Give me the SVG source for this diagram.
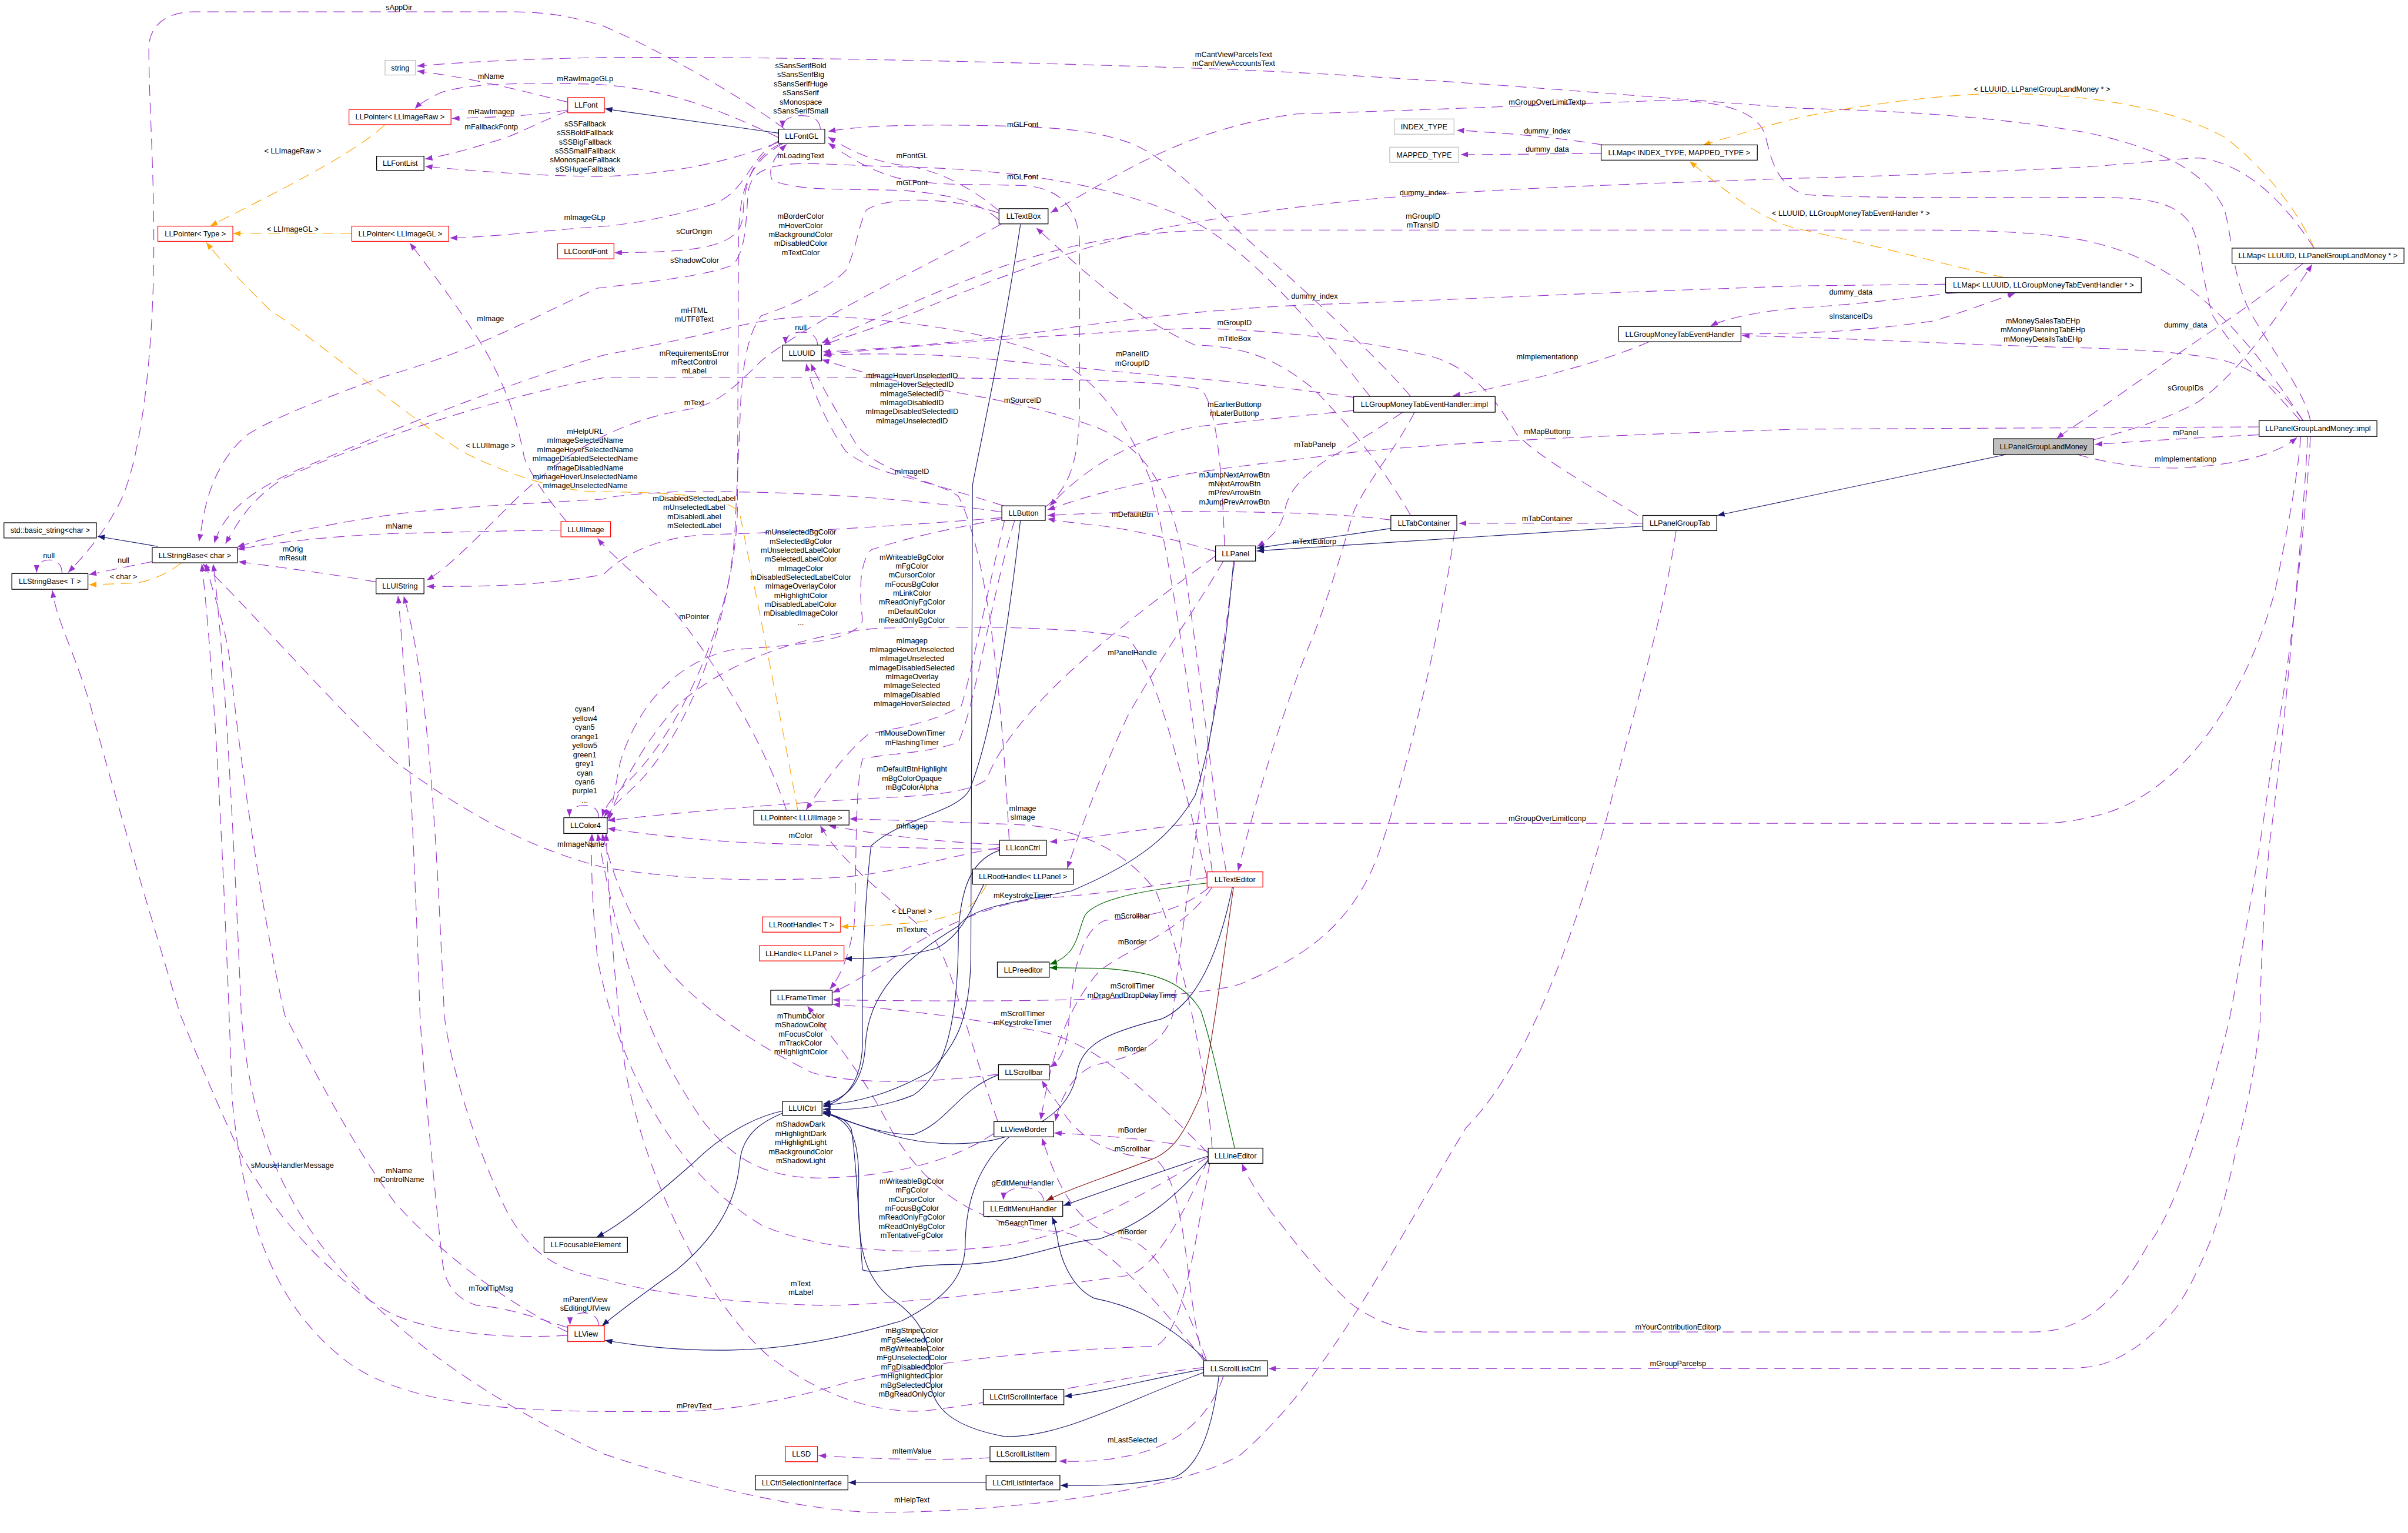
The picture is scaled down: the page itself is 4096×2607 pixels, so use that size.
<svg xmlns="http://www.w3.org/2000/svg" width="4096" height="2607" viewBox="0 0 4096 2607">
<style>
.p{fill:none;stroke:#9a32cd;stroke-width:1.2;stroke-dasharray:20,12;marker-end:url(#ap)}
.o{fill:none;stroke:#ffa500;stroke-width:1.2;stroke-dasharray:20,12;marker-end:url(#ao)}
.n{fill:none;stroke:#191970;stroke-width:1.2;marker-end:url(#an)}
.g{fill:none;stroke:#006400;stroke-width:1.2;marker-end:url(#ag)}
.f{fill:none;stroke:#8b1a1a;stroke-width:1.2;marker-end:url(#af)}
.nd rect{fill:#fff;stroke:#000;stroke-width:1.3}
.nd.red rect{stroke:#ff0000}
.nd.gray rect{stroke:#bfbfbf}
.nd.main rect{fill:#bfbfbf}
text{font-family:"Liberation Sans",Arial,Helvetica,sans-serif;font-size:13.3px;fill:#000;text-anchor:middle}
</style>
<defs>
<marker id="ap" markerUnits="userSpaceOnUse" markerWidth="14" markerHeight="10" refX="13" refY="5" orient="auto"><path d="M0,0 L13,5 L0,10 z" fill="#9a32cd"/></marker>
<marker id="ao" markerUnits="userSpaceOnUse" markerWidth="14" markerHeight="10" refX="13" refY="5" orient="auto"><path d="M0,0 L13,5 L0,10 z" fill="#ffa500"/></marker>
<marker id="an" markerUnits="userSpaceOnUse" markerWidth="14" markerHeight="10" refX="13" refY="5" orient="auto"><path d="M0,0 L13,5 L0,10 z" fill="#191970"/></marker>
<marker id="ag" markerUnits="userSpaceOnUse" markerWidth="14" markerHeight="10" refX="13" refY="5" orient="auto"><path d="M0,0 L13,5 L0,10 z" fill="#006400"/></marker>
<marker id="af" markerUnits="userSpaceOnUse" markerWidth="14" markerHeight="10" refX="13" refY="5" orient="auto"><path d="M0,0 L13,5 L0,10 z" fill="#8b1a1a"/></marker>
</defs>
<rect x="0" y="0" width="4096" height="2607" fill="#fff"/>
<g transform="scale(0.959)">
<g id="connectors">
<path class="p" d="M1392,229 C1300,160 1150,80 1070,46 C1000,25 960,21 900,21 L345,21 C300,21 268,40 264,80 C264,200 276,320 272,500 C266,700 240,850 205,905 C180,950 150,985 121,1015"/>
<path class="p" d="M4098,746 C4090,700 4030,620 3995,560 C3960,500 3960,420 3945,370 C3910,300 3820,260 3700,235 C3500,200 3300,195 3190,192 C2900,170 2500,135 2150,122 C1800,110 1400,100 1070,102 C900,105 800,112 740,117"/>
<path class="p" d="M1007,181 C940,165 850,140 740,126"/>
<path class="p" d="M1381,244 C1250,180 1150,152 1040,149 C900,146 820,150 780,165 C760,175 745,183 736,193"/>
<path class="p" d="M1007,195 C950,205 880,208 802,210"/>
<path class="p" d="M1007,197 C960,215 930,232 895,245 C840,262 800,274 754,282"/>
<path class="p" d="M1381,252 C1300,285 1200,308 1070,313 C950,312 850,304 754,295"/>
<path class="p" d="M1455,229 C1455,212 1440,205 1422,205 C1402,205 1388,212 1388,227"/>
<path class="p" d="M2430,703 C2380,640 2250,470 2130,400 C2000,330 1800,300 1600,296 C1520,294 1470,290 1420,290 C1360,292 1335,305 1328,335 C1322,385 1326,440 1300,470 C1250,490 1150,500 1060,511 C950,560 850,620 680,668 C550,715 480,745 440,770 C390,810 370,870 362,910 C358,930 356,945 353,960"/>
<path class="p" d="M1772,374 C1720,330 1660,300 1600,293 C1540,285 1500,262 1469,243"/>
<path class="p" d="M2502,703 C2450,640 2320,520 2230,440 C2160,380 2080,280 2000,252 C1930,228 1860,224 1700,222 C1600,221 1520,224 1469,233"/>
<path class="p" d="M1853,900 C1905,860 1915,800 1915,700 L1915,430 C1912,370 1880,332 1814,329 C1720,326 1650,330 1590,315 C1530,298 1495,270 1469,254"/>
<path class="p" d="M1772,390 C1740,362 1700,346 1606,338 C1500,334 1420,340 1370,320 C1360,300 1375,275 1395,256"/>
<path class="p" d="M1381,250 C1330,275 1325,340 1265,362 C1180,388 1100,400 1060,402 C950,410 880,420 798,422"/>
<path class="p" d="M1385,255 C1338,275 1320,320 1318,380 C1315,430 1270,448 1090,448"/>
<path class="p" d="M1388,255 C1325,290 1312,340 1310,420 L1308,900 C1305,1100 1200,1300 1120,1380 C1095,1405 1075,1425 1068,1448"/>
<path class="p" d="M1772,378 C1700,352 1580,345 1537,372 C1522,400 1520,440 1500,480 C1460,520 1380,550 1350,560 C1320,600 1314,680 1312,760 L1305,910 C1300,1100 1220,1300 1130,1390 C1100,1420 1080,1435 1072,1448"/>
<path class="p" d="M2150,1546 C2120,1300 2080,1000 2040,850 C2000,750 1950,680 1880,640 C1800,605 1700,580 1550,567 C1450,556 1390,560 1300,580 C1200,605 1120,620 1070,630 C900,680 700,760 560,820 C460,860 400,900 380,963"/>
<path class="p" d="M2172,968 C2168,850 2160,720 2130,690 C2050,672 1800,670 1500,670 L1070,670 C900,700 650,780 500,850 C440,890 420,930 400,964"/>
<path class="p" d="M1777,908 C1600,882 1400,870 1200,872 C1120,876 1085,880 1070,885 C900,895 800,900 716,910 C600,925 480,950 421,970"/>
<path class="p" d="M995,940 C900,941 800,944 700,946 C600,950 500,960 421,974"/>
<path class="p" d="M667,1032 C600,1020 500,1006 423,996"/>
<path class="p" d="M270,996 C240,1002 200,1010 158,1019"/>
<path class="p" d="M110,1017 C110,1000 100,993 88,993 C74,993 65,1000 65,1015"/>
<path class="p" d="M1776,397 C1650,470 1450,560 1350,640 C1300,690 1270,718 1220,726 C1100,745 1000,800 900,900 C830,970 790,1010 757,1029"/>
<path class="p" d="M1777,918 C1600,932 1400,945 1250,948 C1150,955 1100,990 1070,1019 C950,1040 850,1040 757,1040"/>
<path class="p" d="M1007,2354 C960,2340 900,2318 846,2315 C800,2300 790,2270 785,2240 C770,2100 750,1900 745,1800 C735,1500 720,1200 706,1057"/>
<path class="p" d="M2143,2055 C2100,2150 2050,2250 2000,2262 C1800,2290 1600,2312 1470,2315 C1300,2312 1150,2292 1070,2268 C980,2250 940,2220 900,2150 C850,2050 800,1900 788,1800 C775,1500 760,1200 716,1057"/>
<path class="p" d="M1773,1503 C1700,1515 1600,1545 1500,1555 C1350,1565 1200,1560 1070,1538 C960,1510 850,1460 700,1350 C600,1260 480,1120 360,1000"/>
<path class="p" d="M1005,925 C985,900 950,860 930,812 C920,760 905,700 860,620 C830,570 780,500 727,431"/>
<path class="p" d="M1395,1437 C1350,1300 1250,1150 1200,1090 C1130,1020 1080,980 1060,955"/>
<path class="p" d="M1450,612 C1450,596 1438,589 1422,589 C1402,589 1393,597 1393,610"/>
<path class="p" d="M2405,705 C2300,690 2200,678 2130,672 C2000,662 1850,645 1700,632 C1600,626 1520,627 1460,630"/>
<path class="p" d="M4085,746 C3990,600 3880,470 3720,432 C3640,410 3500,408 3400,408 L2150,408 C2000,412 1900,432 1780,472 C1650,520 1520,580 1458,608"/>
<path class="p" d="M4105,441 C4060,370 3990,290 3900,280 C3850,282 3809,288 3700,296 C3500,306 3300,314 3190,316 C2900,326 2600,336 2400,356 C2250,372 2150,388 2060,405 C1900,440 1750,500 1620,555 C1530,590 1490,600 1460,612"/>
<path class="p" d="M3451,504 L3190,507 C2800,520 2500,535 2331,540 C2150,548 2000,565 1850,588 C1700,608 1550,620 1460,624"/>
<path class="p" d="M2175,1546 C2150,1400 2130,1200 2100,1000 C2080,880 2040,800 1950,760 C1850,722 1750,705 1650,688 C1560,672 1500,650 1458,638"/>
<path class="p" d="M1780,897 C1700,870 1560,840 1520,790 C1490,740 1460,690 1438,645"/>
<path class="p" d="M1790,1490 C1780,1300 1760,1000 1700,880 C1650,845 1560,850 1500,800 C1465,750 1440,690 1430,645"/>
<path class="p" d="M4080,746 C4040,700 3960,620 3925,560 C3905,500 3905,420 3880,390 C3850,355 3800,350 3700,350 C3500,350 3300,352 3200,345 C3140,322 3140,262 3128,232 C3108,192 3040,178 2950,178 C2800,184 2500,196 2300,202 C2150,222 2050,272 1960,322 C1920,345 1890,362 1864,377"/>
<path class="p" d="M2843,257 C2780,246 2680,236 2584,231"/>
<path class="p" d="M2840,272 C2750,273 2680,274 2591,274"/>
<path class="p" d="M2502,914 C2460,840 2400,760 2330,690 C2260,632 2200,614 2120,612 C2000,560 1900,460 1838,404"/>
<path class="p" d="M2905,914 C2800,850 2730,810 2690,770 C2650,700 2600,645 2530,630 C2400,600 2250,585 2120,582 C1900,590 1650,612 1462,628"/>
<path class="p" d="M2925,606 C2850,640 2700,680 2577,702"/>
<path class="p" d="M2401,728 C2300,738 2200,748 2120,757 C2000,780 1920,835 1862,897"/>
<path class="p" d="M4007,757 L3190,761 C2900,770 2600,782 2400,802 C2250,822 2130,832 2050,852 C1950,872 1900,890 1858,904"/>
<path class="p" d="M2488,731 C2430,770 2380,800 2358,812 C2300,850 2282,880 2278,910 C2270,940 2252,956 2230,969"/>
<path class="p" d="M2467,922 C2400,913 2300,908 2120,907 C2000,907 1920,911 1858,914"/>
<path class="p" d="M2156,978 C2080,955 2000,938 1950,932 C1900,927 1880,924 1858,920"/>
<path class="p" d="M2509,731 C2480,790 2420,860 2400,910 C2380,980 2350,1080 2320,1150 C2280,1250 2232,1400 2196,1544"/>
<path class="p" d="M4085,746 C4040,680 3990,652 3947,640 C3880,625 3800,620 3700,617 C3500,612 3300,601 3190,598 L3090,595"/>
<path class="p" d="M3089,592 C3200,592 3300,588 3431,569 C3500,547 3540,532 3574,520"/>
<path class="p" d="M3472,519 C3400,526 3300,540 3190,546 C3120,552 3060,565 3034,578"/>
<path class="p" d="M4085,467 C4020,520 3950,570 3912,594 C3830,650 3740,714 3700,742 C3672,760 3658,770 3648,778"/>
<path class="p" d="M3713,780 C3780,762 3840,745 3900,712 C3980,652 4040,560 4101,469"/>
<path class="p" d="M4007,771 C3900,776 3800,782 3716,788"/>
<path class="p" d="M3685,806 C3740,822 3800,830 3860,830 C3950,826 4030,812 4074,776"/>
<path class="p" d="M4081,774 C4075,850 4055,950 4036,1045 C4010,1140 3980,1200 3950,1250 C3880,1370 3790,1430 3720,1446 C3680,1456 3650,1460 3616,1460 L2130,1460 C2050,1465 1950,1485 1862,1493"/>
<path class="p" d="M4098,774 C4092,900 4060,1200 4030,1350 C3995,1600 3965,1750 3954,1810 C3920,1950 3860,2150 3809,2209 C3770,2280 3730,2320 3700,2336 C3670,2355 3640,2362 3600,2362 L2523,2362 C2470,2356 2420,2332 2393,2309 C2330,2250 2282,2182 2256,2151 C2235,2122 2215,2092 2203,2064"/>
<path class="p" d="M4093,774 C4088,900 4052,1300 4025,1500 C4012,1650 4009,1750 4009,1810 C4000,1900 3982,1980 3967,2034 C3950,2120 3930,2180 3912,2221 C3882,2290 3862,2320 3843,2338 C3800,2390 3750,2416 3713,2423 C3690,2426 3670,2427 3650,2427 L2250,2427"/>
<path class="p" d="M2973,941 C2950,1100 2900,1250 2850,1450 C2780,1700 2700,1900 2600,2000 C2450,2250 2350,2450 2200,2580 C2100,2640 1800,2682 1550,2682 C1400,2677 1200,2622 1070,2578 C900,2500 750,2400 650,2300 C500,2150 445,2000 428,1800 C412,1400 392,1100 378,1000"/>
<path class="p" d="M1007,2362 C900,2312 780,2222 700,2132 C620,2022 560,1902 505,1800 C460,1600 420,1300 410,1190 C400,1100 375,1050 366,1000"/>
<path class="p" d="M1007,2368 C900,2374 780,2366 700,2332 C600,2282 480,2152 420,2032 C360,1902 330,1822 320,1800 C260,1600 200,1400 160,1250 C130,1150 100,1100 93,1047"/>
<path class="p" d="M2146,2062 C2120,2200 2100,2362 2050,2387 C1900,2394 1700,2402 1500,2452 C1400,2482 1300,2502 1200,2503 L1070,2503 C900,2501 700,2491 600,2402 C480,2302 432,2152 412,1952 C396,1500 380,1200 358,1000"/>
<path class="p" d="M1062,2351 C1062,2336 1050,2328 1036,2328 C1020,2328 1011,2336 1011,2349"/>
<path class="p" d="M1062,1450 C1062,1434 1050,1428 1038,1428 C1022,1428 1010,1434 1010,1448"/>
<path class="p" d="M1777,920 C1700,935 1620,950 1545,975 C1522,1000 1525,1060 1530,1100 C1518,1132 1450,1142 1300,1152 C1200,1172 1130,1252 1100,1352 C1090,1402 1086,1430 1080,1454"/>
<path class="p" d="M2141,1556 C2100,1400 2060,1200 2000,1130 C1900,1112 1750,1110 1560,1114 C1450,1122 1300,1162 1200,1252 C1130,1332 1100,1402 1077,1452"/>
<path class="p" d="M1800,922 C1760,1050 1730,1250 1700,1316 C1650,1336 1570,1336 1530,1346 C1515,1400 1520,1550 1515,1640 C1505,1700 1490,1732 1472,1754"/>
<path class="p" d="M2156,986 C2000,1100 1800,1250 1750,1382 C1720,1406 1650,1411 1540,1416 C1400,1424 1200,1441 1078,1455"/>
<path class="p" d="M1773,1506 C1600,1504 1450,1499 1300,1493 C1200,1486 1120,1476 1078,1469"/>
<path class="p" d="M2170,995 C2120,1080 2050,1180 2000,1270 C1950,1380 1920,1460 1893,1540"/>
<path class="p" d="M2150,2036 C2140,1900 2100,1700 2050,1580 C1990,1500 1900,1466 1800,1462 C1700,1458 1600,1455 1507,1452"/>
<path class="p" d="M1773,1498 C1700,1494 1600,1488 1470,1464"/>
<path class="p" d="M1782,922 C1762,1000 1722,1200 1705,1252 C1655,1282 1585,1292 1540,1302 C1492,1342 1452,1402 1430,1436"/>
<path class="p" d="M1770,1989 C1720,1850 1690,1720 1660,1670 C1590,1600 1490,1530 1455,1464"/>
<path class="o" d="M1750,1568 C1730,1610 1700,1627 1620,1636 C1570,1641 1530,1643 1492,1643"/>
<path class="p" d="M2141,1556 C2050,1571 1950,1586 1850,1593 C1750,1602 1650,1652 1580,1702 C1530,1732 1500,1750 1477,1760"/>
<path class="p" d="M2145,1573 C2100,1612 2040,1627 1960,1632 C1910,1652 1900,1752 1895,1822 C1890,1862 1880,1882 1862,1892"/>
<path class="p" d="M2150,1573 C2100,1652 2000,1682 1950,1722 C1880,1802 1860,1902 1846,1986"/>
<path class="p" d="M2580,941 C2560,1100 2500,1350 2450,1500 C2400,1650 2300,1702 2200,1745 C2100,1775 1800,1778 1477,1773"/>
<path class="p" d="M2143,2045 C2050,1950 1950,1852 1850,1830 C1700,1802 1600,1790 1477,1781"/>
<path class="p" d="M1771,1905 C1650,1920 1520,1925 1440,1902 C1380,1872 1310,1832 1250,1782 C1150,1702 1100,1602 1068,1478"/>
<path class="p" d="M1763,2010 C1700,2052 1600,2087 1450,2089 C1350,2087 1300,2052 1250,1992 C1150,1852 1100,1702 1060,1478"/>
<path class="p" d="M2143,2052 C2050,2102 1900,2202 1750,2212 C1600,2227 1450,2217 1350,2172 C1200,2082 1100,1902 1060,1702 C1050,1602 1048,1532 1050,1478"/>
<path class="p" d="M2135,2425 C2000,2440 1800,2482 1640,2502 C1550,2507 1450,2472 1360,2402 C1250,2302 1150,2102 1110,1902 C1090,1752 1080,1602 1075,1478"/>
<path class="p" d="M2190,995 C2150,1300 2100,1600 2080,1800 C2060,1860 2000,1876 1940,1889 C1900,1907 1880,1950 1872,1988"/>
<path class="p" d="M2143,2042 C2080,2022 1950,2013 1870,2009"/>
<path class="p" d="M2137,2418 C2100,2300 2110,2110 2050,2055 C1950,2048 1900,2002 1880,1962 C1866,1942 1856,1930 1848,1916"/>
<path class="p" d="M2140,2412 C2100,2302 2050,2202 1990,2195 C1900,2175 1870,2082 1848,2018"/>
<path class="p" d="M2170,2440 C2150,2502 2100,2562 2000,2582 C1950,2592 1920,2592 1879,2591"/>
<path class="p" d="M1756,2585 C1680,2590 1550,2588 1452,2581"/>
<path class="p" d="M1851,2130 C1851,2114 1835,2106 1815,2106 C1795,2106 1780,2114 1780,2128"/>
<path class="p" d="M2137,2415 C2050,2302 1950,2192 1880,2184 C1750,2178 1650,2122 1580,2002 C1530,1902 1462,1822 1432,1784"/>
<path class="p" d="M2913,928 L2588,928"/>
<path class="o" d="M682,222 C620,280 450,360 373,401"/>
<path class="o" d="M624,414 L414,414"/>
<path class="o" d="M1415,1437 C1390,1300 1340,1050 1312,910 C1290,880 1200,873 1060,872 C990,871 900,841 820,801 C700,721 560,601 480,551 C430,501 390,461 366,430"/>
<path class="o" d="M322,998 C300,1015 270,1030 240,1034 L158,1037"/>
<path class="o" d="M3555,492 C3450,470 3350,440 3190,406 C3120,390 3050,330 2997,286"/>
<path class="o" d="M4105,441 C4080,380 4020,300 3947,244 C3850,190 3700,165 3534,166 C3400,170 3250,196 3190,209 C3120,226 3060,246 3021,257"/>
<path class="n" d="M1381,236 L1073,193"/>
<path class="n" d="M280,969 L173,951"/>
<path class="n" d="M2467,937 L2229,972"/>
<path class="n" d="M2914,933 L2229,977"/>
<path class="n" d="M3558,806 L3046,914"/>
<path class="n" d="M1810,398 C1780,600 1740,780 1725,860 L1722,1700 C1720,1800 1700,1850 1650,1900 C1580,1940 1520,1955 1460,1960"/>
<path class="n" d="M1810,922 C1790,1100 1760,1300 1720,1400 C1700,1440 1600,1450 1545,1500 C1533,1600 1528,1750 1530,1850 C1528,1920 1500,1950 1460,1963"/>
<path class="n" d="M1773,1508 C1730,1522 1705,1562 1700,1652 C1700,1802 1680,1902 1620,1942 C1560,1966 1500,1969 1460,1967"/>
<path class="n" d="M2188,995 C2175,1150 2150,1320 2120,1410 C2080,1480 2020,1530 1900,1580 C1780,1602 1720,1612 1700,1642 C1600,1702 1540,1762 1535,1852 C1532,1912 1510,1946 1460,1958"/>
<path class="n" d="M1771,1906 C1700,1932 1680,1992 1620,2012 C1560,2012 1500,1987 1460,1972"/>
<path class="n" d="M2186,1573 C2160,1700 2120,1782 2060,1807 C1960,1832 1920,1852 1910,1902 C1900,1962 1850,2002 1760,2022 C1650,2042 1560,2012 1460,1970"/>
<path class="n" d="M2143,2058 C2100,2102 2050,2162 1950,2197 C1880,2202 1800,2242 1700,2242 C1600,2242 1560,2262 1530,2252 C1525,2202 1520,2062 1510,2002 C1500,1982 1480,1977 1460,1975"/>
<path class="n" d="M2140,2432 C2000,2482 1880,2552 1780,2547 C1700,2532 1650,2502 1650,2442 C1650,2382 1640,2342 1580,2302 C1530,2262 1520,2202 1523,2102 C1525,2022 1510,1982 1460,1974"/>
<path class="n" d="M2143,2050 C2050,2080 1950,2115 1886,2138"/>
<path class="n" d="M2140,2413 C2060,2332 1990,2312 1940,2302 C1900,2282 1880,2232 1875,2192 C1872,2177 1870,2167 1866,2158"/>
<path class="n" d="M2135,2428 C2050,2442 1950,2470 1888,2476"/>
<path class="n" d="M2162,2440 C2152,2520 2132,2600 2082,2620 C2002,2635 1942,2635 1881,2634"/>
<path class="n" d="M1749,2629 L1505,2629"/>
<path class="n" d="M1388,1974 C1350,1990 1316,2012 1312,2062 C1305,2142 1260,2202 1200,2252 C1130,2302 1092,2330 1068,2351"/>
<path class="n" d="M1388,1970 C1340,1980 1280,2012 1230,2062 C1150,2132 1100,2172 1058,2194"/>
<path class="n" d="M1790,2016 C1740,2062 1712,2122 1712,2212 C1710,2262 1680,2302 1600,2342 C1500,2372 1400,2392 1300,2394 C1200,2396 1130,2386 1073,2377"/>
<path class="n" d="M1745,1568 C1720,1622 1700,1662 1660,1682 C1600,1698 1550,1700 1498,1700"/>
<path class="g" d="M2190,2036 C2170,1952 2150,1852 2130,1792 C2100,1742 2050,1722 1950,1717 L1862,1716"/>
<path class="g" d="M2141,1566 C2050,1576 1950,1590 1925,1622 C1910,1652 1915,1692 1862,1710"/>
<path class="f" d="M2188,1573 C2170,1700 2150,1852 2130,1942 C2100,2012 2080,2042 2040,2057 C1950,2092 1900,2107 1856,2129"/>
</g>
<g id="edge-labels">
<text x="707.7" y="17.5">sAppDir</text>
<text x="2188" y="101"><tspan x="2188">mCantViewParcelsText</tspan><tspan x="2188" dy="16.2">mCantViewAccountsText</tspan></text>
<text x="870.7" y="139.9">mName</text>
<text x="1037.7" y="144">mRawImageGLp</text>
<text x="871.4" y="202">mRawImagep</text>
<text x="871.4" y="229.9">mFallbackFontp</text>
<text x="1038" y="224.1"><tspan x="1038">sSSFallback</tspan><tspan x="1038" dy="16.0">sSSBoldFallback</tspan><tspan x="1038" dy="16.0">sSSBigFallback</tspan><tspan x="1038" dy="16.0">sSSSmallFallback</tspan><tspan x="1038" dy="16.0">sMonospaceFallback</tspan><tspan x="1038" dy="16.0">sSSHugeFallback</tspan></text>
<text x="1420.3" y="120.7"><tspan x="1420.3">sSansSerifBold</tspan><tspan x="1420.3" dy="16.2">sSansSerifBig</tspan><tspan x="1420.3" dy="16.2">sSansSerifHuge</tspan><tspan x="1420.3" dy="16.2">sSansSerif</tspan><tspan x="1420.3" dy="16.2">sMonospace</tspan><tspan x="1420.3" dy="16.2">sSansSerifSmall</tspan></text>
<text x="1420.3" y="280.4">mLoadingText</text>
<text x="1617.5" y="281">mFontGL</text>
<text x="1814" y="225.3">mGLFont</text>
<text x="1814" y="318.1">mGLFont</text>
<text x="1617.5" y="328">mGLFont</text>
<text x="2744.4" y="185.8">mGroupOverLimitTextp</text>
<text x="2744.4" y="236.9">dummy_index</text>
<text x="2744.4" y="269.4">dummy_data</text>
<text x="3622" y="162.6">&lt; LLUUID, LLPanelGroupLandMoney * &gt;</text>
<text x="2524" y="346">dummy_index</text>
<text x="3283" y="382.5">&lt; LLUUID, LLGroupMoneyTabEventHandler * &gt;</text>
<text x="2524" y="388.3"><tspan x="2524">mGroupID</tspan><tspan x="2524" dy="15.7">mTransID</tspan></text>
<text x="1037" y="389.5">mImageGLp</text>
<text x="1420.3" y="388.3"><tspan x="1420.3">mBorderColor</tspan><tspan x="1420.3" dy="16.0">mHoverColor</tspan><tspan x="1420.3" dy="16.0">mBackgroundColor</tspan><tspan x="1420.3" dy="16.0">mDisabledColor</tspan><tspan x="1420.3" dy="16.0">mTextColor</tspan></text>
<text x="1231.3" y="414.5">sCurOrigin</text>
<text x="1232" y="466.1">sShadowColor</text>
<text x="519.3" y="272.3">&lt; LLImageRaw &gt;</text>
<text x="519.3" y="410.4">&lt; LLImageGL &gt;</text>
<text x="3282.9" y="522.4">dummy_data</text>
<text x="2331.5" y="530">dummy_index</text>
<text x="1231.3" y="554.3"><tspan x="1231.3">mHTML</tspan><tspan x="1231.3" dy="16.3">mUTF8Text</tspan></text>
<text x="3282.9" y="565.4">sInstanceIDs</text>
<text x="870" y="568.9">mImage</text>
<text x="3623.5" y="573.5"><tspan x="3623.5">mMoneySalesTabEHp</tspan><tspan x="3623.5" dy="16.1">mMoneyPlanningTabEHp</tspan><tspan x="3623.5" dy="16.1">mMoneyDetailsTabEHp</tspan></text>
<text x="3876.7" y="580.5">dummy_data</text>
<text x="1420.3" y="585.1">null</text>
<text x="2189.6" y="576.4">mGroupID</text>
<text x="2189.6" y="604.3">mTitleBox</text>
<text x="1231.3" y="630.4"><tspan x="1231.3">mRequirementsError</tspan><tspan x="1231.3" dy="16.1">mRectControl</tspan><tspan x="1231.3" dy="16.1">mLabel</tspan></text>
<text x="2008.5" y="632.1"><tspan x="2008.5">mPanelID</tspan><tspan x="2008.5" dy="16.3">mGroupID</tspan></text>
<text x="2744.4" y="637.3">mImplementationp</text>
<text x="1617.5" y="670.4"><tspan x="1617.5">mImageHoverUnselectedID</tspan><tspan x="1617.5" dy="16.0">mImageHoverSelectedID</tspan><tspan x="1617.5" dy="16.0">mImageSelectedID</tspan><tspan x="1617.5" dy="16.0">mImageDisabledID</tspan><tspan x="1617.5" dy="16.0">mImageDisabledSelectedID</tspan><tspan x="1617.5" dy="16.0">mImageUnselectedID</tspan></text>
<text x="3876.7" y="692.5">sGroupIDs</text>
<text x="1814" y="714">mSourceID</text>
<text x="1231.3" y="718.6">mText</text>
<text x="2189.6" y="721.5"><tspan x="2189.6">mEarlierButtonp</tspan><tspan x="2189.6" dy="16.2">mLaterButtonp</tspan></text>
<text x="1038" y="769.7"><tspan x="1038">mHelpURL</tspan><tspan x="1038" dy="16.0">mImageSelectedName</tspan><tspan x="1038" dy="16.0">mImageHoverSelectedName</tspan><tspan x="1038" dy="16.0">mImageDisabledSelectedName</tspan><tspan x="1038" dy="16.0">mImageDisabledName</tspan><tspan x="1038" dy="16.0">mImageHoverUnselectedName</tspan><tspan x="1038" dy="16.0">mImageUnselectedName</tspan></text>
<text x="2744.4" y="769.7">mMapButtonp</text>
<text x="3876.7" y="772">mPanel</text>
<text x="2332.2" y="792.3">mTabPanelp</text>
<text x="870" y="794.7">&lt; LLUIImage &gt;</text>
<text x="3876.7" y="818.4">mImplementationp</text>
<text x="1617.5" y="840.5">mImageID</text>
<text x="2189.6" y="846.3"><tspan x="2189.6">mJumpNextArrowBtn</tspan><tspan x="2189.6" dy="16.1">mNextArrowBtn</tspan><tspan x="2189.6" dy="16.1">mPrevArrowBtn</tspan><tspan x="2189.6" dy="16.1">mJumpPrevArrowBtn</tspan></text>
<text x="1231.3" y="888.1"><tspan x="1231.3">mDisabledSelectedLabel</tspan><tspan x="1231.3" dy="16.2">mUnselectedLabel</tspan><tspan x="1231.3" dy="16.2">mDisabledLabel</tspan><tspan x="1231.3" dy="16.2">mSelectedLabel</tspan></text>
<text x="2008.5" y="916.3">mDefaultBtn</text>
<text x="707.7" y="937.7">mName</text>
<text x="1420.3" y="948.2"><tspan x="1420.3">mUnselectedBgColor</tspan><tspan x="1420.3" dy="16.0">mSelectedBgColor</tspan><tspan x="1420.3" dy="16.0">mUnselectedLabelColor</tspan><tspan x="1420.3" dy="16.0">mSelectedLabelColor</tspan><tspan x="1420.3" dy="16.0">mImageColor</tspan><tspan x="1420.3" dy="16.0">mDisabledSelectedLabelColor</tspan><tspan x="1420.3" dy="16.0">mImageOverlayColor</tspan><tspan x="1420.3" dy="16.0">mHighlightColor</tspan><tspan x="1420.3" dy="16.0">mDisabledLabelColor</tspan><tspan x="1420.3" dy="16.0">mDisabledImageColor</tspan><tspan x="1420.3" dy="16.0">...</tspan></text>
<text x="2744.4" y="923.7">mTabContainer</text>
<text x="2331.5" y="964.5">mTextEditorp</text>
<text x="519.3" y="978.4"><tspan x="519.3">mOrig</tspan><tspan x="519.3" dy="15.7">mResult</tspan></text>
<text x="219" y="997.6">null</text>
<text x="219" y="1026.6">&lt; char &gt;</text>
<text x="86.7" y="989.4">null</text>
<text x="1617.5" y="992.3"><tspan x="1617.5">mWriteableBgColor</tspan><tspan x="1617.5" dy="16.0">mFgColor</tspan><tspan x="1617.5" dy="16.0">mCursorColor</tspan><tspan x="1617.5" dy="16.0">mFocusBgColor</tspan><tspan x="1617.5" dy="16.0">mLinkColor</tspan><tspan x="1617.5" dy="16.0">mReadOnlyFgColor</tspan><tspan x="1617.5" dy="16.0">mDefaultColor</tspan><tspan x="1617.5" dy="16.0">mReadOnlyBgColor</tspan></text>
<text x="1231.3" y="1098">mPointer</text>
<text x="1617.5" y="1140.3"><tspan x="1617.5">mImagep</tspan><tspan x="1617.5" dy="16.0">mImageHoverUnselected</tspan><tspan x="1617.5" dy="16.0">mImageUnselected</tspan><tspan x="1617.5" dy="16.0">mImageDisabledSelected</tspan><tspan x="1617.5" dy="16.0">mImageOverlay</tspan><tspan x="1617.5" dy="16.0">mImageSelected</tspan><tspan x="1617.5" dy="16.0">mImageDisabled</tspan><tspan x="1617.5" dy="16.0">mImageHoverSelected</tspan></text>
<text x="2008.5" y="1161.2">mPanelHandle</text>
<text x="1037.2" y="1262.2"><tspan x="1037.2">cyan4</tspan><tspan x="1037.2" dy="16.1">yellow4</tspan><tspan x="1037.2" dy="16.1">cyan5</tspan><tspan x="1037.2" dy="16.1">orange1</tspan><tspan x="1037.2" dy="16.1">yellow5</tspan><tspan x="1037.2" dy="16.1">green1</tspan><tspan x="1037.2" dy="16.1">grey1</tspan><tspan x="1037.2" dy="16.1">cyan</tspan><tspan x="1037.2" dy="16.1">cyan6</tspan><tspan x="1037.2" dy="16.1">purple1</tspan><tspan x="1037.2" dy="16.1">...</tspan></text>
<text x="1617.5" y="1304.6"><tspan x="1617.5">mMouseDownTimer</tspan><tspan x="1617.5" dy="16.3">mFlashingTimer</tspan></text>
<text x="1617.5" y="1368.4"><tspan x="1617.5">mDefaultBtnHighlight</tspan><tspan x="1617.5" dy="16.0">mBgColorOpaque</tspan><tspan x="1617.5" dy="16.0">mBgColorAlpha</tspan></text>
<text x="1814" y="1437.5"><tspan x="1814">mImage</tspan><tspan x="1814" dy="16.3">sImage</tspan></text>
<text x="2744.4" y="1456.1">mGroupOverLimitIconp</text>
<text x="1617.5" y="1469.4">mImagep</text>
<text x="1420.3" y="1486.3">mColor</text>
<text x="1030.4" y="1501.4">mImageName</text>
<text x="1814" y="1591.9">mKeystrokeTimer</text>
<text x="1617.5" y="1620.3">&lt; LLPanel &gt;</text>
<text x="2008.5" y="1628.5">mScrollbar</text>
<text x="1617.5" y="1652.3">mTexture</text>
<text x="2008.5" y="1674.9">mBorder</text>
<text x="2008.5" y="1753.2"><tspan x="2008.5">mScrollTimer</tspan><tspan x="2008.5" dy="16.3">mDragAndDropDelayTimer</tspan></text>
<text x="1814" y="1801.4"><tspan x="1814">mScrollTimer</tspan><tspan x="1814" dy="15.8">mKeystrokeTimer</tspan></text>
<text x="1420.3" y="1806.1"><tspan x="1420.3">mThumbColor</tspan><tspan x="1420.3" dy="16.0">mShadowColor</tspan><tspan x="1420.3" dy="16.0">mFocusColor</tspan><tspan x="1420.3" dy="16.0">mTrackColor</tspan><tspan x="1420.3" dy="16.0">mHighlightColor</tspan></text>
<text x="2008.5" y="1864.9">mBorder</text>
<text x="1420.3" y="1998.3"><tspan x="1420.3">mShadowDark</tspan><tspan x="1420.3" dy="16.1">mHighlightDark</tspan><tspan x="1420.3" dy="16.1">mHighlightLight</tspan><tspan x="1420.3" dy="16.1">mBackgroundColor</tspan><tspan x="1420.3" dy="16.1">mShadowLight</tspan></text>
<text x="2008.5" y="2008.4">mBorder</text>
<text x="2008.5" y="2042.1">mScrollbar</text>
<text x="518.6" y="2070.7">sMouseHandlerMessage</text>
<text x="707.7" y="2080.1"><tspan x="707.7">mName</tspan><tspan x="707.7" dy="15.8">mControlName</tspan></text>
<text x="1617.5" y="2098.9"><tspan x="1617.5">mWriteableBgColor</tspan><tspan x="1617.5" dy="16.0">mFgColor</tspan><tspan x="1617.5" dy="16.0">mCursorColor</tspan><tspan x="1617.5" dy="16.0">mFocusBgColor</tspan><tspan x="1617.5" dy="16.0">mReadOnlyFgColor</tspan><tspan x="1617.5" dy="16.0">mReadOnlyBgColor</tspan><tspan x="1617.5" dy="16.0">mTentativeFgColor</tspan></text>
<text x="1814" y="2102.4">gEditMenuHandler</text>
<text x="1814" y="2173.1">mSearchTimer</text>
<text x="2008.5" y="2189.2">mBorder</text>
<text x="1420.3" y="2280.1"><tspan x="1420.3">mText</tspan><tspan x="1420.3" dy="15.8">mLabel</tspan></text>
<text x="870.7" y="2288.9">mToolTipMsg</text>
<text x="1038" y="2308.2"><tspan x="1038">mParentView</tspan><tspan x="1038" dy="15.8">sEditingUIView</tspan></text>
<text x="2976.4" y="2357.9">mYourContributionEditorp</text>
<text x="1617.5" y="2364.4"><tspan x="1617.5">mBgStripeColor</tspan><tspan x="1617.5" dy="16.0">mFgSelectedColor</tspan><tspan x="1617.5" dy="16.0">mBgWriteableColor</tspan><tspan x="1617.5" dy="16.0">mFgUnselectedColor</tspan><tspan x="1617.5" dy="16.0">mFgDisabledColor</tspan><tspan x="1617.5" dy="16.0">mHighlightedColor</tspan><tspan x="1617.5" dy="16.0">mBgSelectedColor</tspan><tspan x="1617.5" dy="16.0">mBgReadOnlyColor</tspan></text>
<text x="2976.4" y="2422.2">mGroupParcelsp</text>
<text x="1231.3" y="2497.7">mPrevText</text>
<text x="2008.5" y="2557.9">mLastSelected</text>
<text x="1617.5" y="2577.7">mItemValue</text>
<text x="1617.5" y="2664.4">mHelpText</text>
</g>
<g id="n-string" class="nd gray"><rect x="683" y="107" width="54" height="26"/><text x="710" y="124.7">string</text></g>
<g id="n-LLFont" class="nd red"><rect x="1007" y="173" width="65" height="27"/><text x="1039.5" y="191.2">LLFont</text></g>
<g id="n-LLPointer-LLImageRaw" class="nd red"><rect x="619" y="194" width="181" height="27"/><text x="709.5" y="212.2">LLPointer&lt; LLImageRaw &gt;</text></g>
<g id="n-LLFontList" class="nd"><rect x="668" y="277" width="84" height="25"/><text x="710" y="294.2">LLFontList</text></g>
<g id="n-LLPointer-Type" class="nd red"><rect x="280" y="401" width="133" height="27"/><text x="346.5" y="419.2">LLPointer&lt; Type &gt;</text></g>
<g id="n-LLPointer-LLImageGL" class="nd red"><rect x="624" y="401" width="172" height="27"/><text x="710" y="419.2">LLPointer&lt; LLImageGL &gt;</text></g>
<g id="n-LLCoordFont" class="nd red"><rect x="989" y="432" width="100" height="27"/><text x="1039" y="450.2">LLCoordFont</text></g>
<g id="n-LLFontGL" class="nd"><rect x="1381" y="229" width="82" height="25"/><text x="1422" y="246.2">LLFontGL</text></g>
<g id="n-LLTextBox" class="nd"><rect x="1772" y="370" width="87" height="27"/><text x="1815.5" y="388.2">LLTextBox</text></g>
<g id="n-LLUUID" class="nd"><rect x="1388" y="612" width="69" height="28"/><text x="1422.5" y="630.7">LLUUID</text></g>
<g id="n-LLButton" class="nd"><rect x="1777" y="897" width="77" height="26"/><text x="1815.5" y="914.7">LLButton</text></g>
<g id="n-INDEX_TYPE" class="nd gray"><rect x="2473" y="211" width="106" height="27"/><text x="2526" y="229.2">INDEX_TYPE</text></g>
<g id="n-MAPPED_TYPE" class="nd gray"><rect x="2465" y="261" width="122" height="27"/><text x="2526" y="279.2">MAPPED_TYPE</text></g>
<g id="n-LLMap-generic" class="nd"><rect x="2840" y="257" width="277" height="27"/><text x="2978.5" y="275.2">LLMap&lt; INDEX_TYPE, MAPPED_TYPE &gt;</text></g>
<g id="n-LLGroupMoneyTabEventHandler" class="nd"><rect x="2871" y="579" width="217" height="27"/><text x="2979.5" y="597.2">LLGroupMoneyTabEventHandler</text></g>
<g id="n-LLGroupMoneyTabEventHandler-impl" class="nd"><rect x="2401" y="703" width="251" height="28"/><text x="2526.5" y="721.7">LLGroupMoneyTabEventHandler::impl</text></g>
<g id="n-LLMap-LLPanelGroupLandMoney" class="nd"><rect x="3959" y="440" width="305" height="27"/><text x="4111.5" y="458.2">LLMap&lt; LLUUID, LLPanelGroupLandMoney * &gt;</text></g>
<g id="n-LLMap-LLGroupMoneyTabEventHandler" class="nd"><rect x="3451" y="492" width="347" height="27"/><text x="3624.5" y="510.2">LLMap&lt; LLUUID, LLGroupMoneyTabEventHandler * &gt;</text></g>
<g id="n-LLPanelGroupLandMoney" class="nd main"><rect x="3536" y="778" width="177" height="28"/><text x="3624.5" y="796.7">LLPanelGroupLandMoney</text></g>
<g id="n-LLPanelGroupLandMoney-impl" class="nd"><rect x="4007" y="746" width="209" height="28"/><text x="4111.5" y="764.7">LLPanelGroupLandMoney::impl</text></g>
<g id="n-std-basic_string" class="nd"><rect x="7" y="927" width="164" height="27"/><text x="89" y="945.2">std::basic_string&lt;char &gt;</text></g>
<g id="n-LLStringBase-char" class="nd"><rect x="270" y="971" width="151" height="27"/><text x="345.5" y="989.2">LLStringBase&lt; char &gt;</text></g>
<g id="n-LLStringBase-T" class="nd"><rect x="21" y="1017" width="135" height="28"/><text x="88.5" y="1035.7">LLStringBase&lt; T &gt;</text></g>
<g id="n-LLUIString" class="nd"><rect x="667" y="1026" width="85" height="27"/><text x="709.5" y="1044.2">LLUIString</text></g>
<g id="n-LLUIImage" class="nd red"><rect x="995" y="925" width="88" height="27"/><text x="1039" y="943.2">LLUIImage</text></g>
<g id="n-LLColor4" class="nd"><rect x="1000" y="1450" width="77" height="28"/><text x="1038.5" y="1468.7">LLColor4</text></g>
<g id="n-LLPointer-LLUIImage" class="nd"><rect x="1337" y="1437" width="169" height="26"/><text x="1421.5" y="1454.7">LLPointer&lt; LLUIImage &gt;</text></g>
<g id="n-LLIconCtrl" class="nd"><rect x="1773" y="1490" width="83" height="27"/><text x="1814.5" y="1508.2">LLIconCtrl</text></g>
<g id="n-LLRootHandle-LLPanel" class="nd"><rect x="1725" y="1541" width="179" height="27"/><text x="1814.5" y="1559.2">LLRootHandle&lt; LLPanel &gt;</text></g>
<g id="n-LLRootHandle-T" class="nd red"><rect x="1352" y="1626" width="139" height="27"/><text x="1421.5" y="1644.2">LLRootHandle&lt; T &gt;</text></g>
<g id="n-LLHandle-LLPanel" class="nd red"><rect x="1347" y="1677" width="150" height="27"/><text x="1422" y="1695.2">LLHandle&lt; LLPanel &gt;</text></g>
<g id="n-LLPreeditor" class="nd"><rect x="1769" y="1706" width="92" height="27"/><text x="1815" y="1724.2">LLPreeditor</text></g>
<g id="n-LLFrameTimer" class="nd"><rect x="1367" y="1756" width="109" height="26"/><text x="1421.5" y="1773.7">LLFrameTimer</text></g>
<g id="n-LLTabContainer" class="nd"><rect x="2467" y="914" width="117" height="27"/><text x="2525.5" y="932.2">LLTabContainer</text></g>
<g id="n-LLPanelGroupTab" class="nd"><rect x="2914" y="914" width="131" height="27"/><text x="2979.5" y="932.2">LLPanelGroupTab</text></g>
<g id="n-LLPanel" class="nd"><rect x="2156" y="968" width="71" height="27"/><text x="2191.5" y="986.2">LLPanel</text></g>
<g id="n-LLTextEditor" class="nd red"><rect x="2141" y="1546" width="99" height="27"/><text x="2190.5" y="1564.2">LLTextEditor</text></g>
<g id="n-LLScrollbar" class="nd"><rect x="1771" y="1888" width="90" height="27"/><text x="1816" y="1906.2">LLScrollbar</text></g>
<g id="n-LLUICtrl" class="nd"><rect x="1388" y="1953" width="70" height="25"/><text x="1423" y="1970.2">LLUICtrl</text></g>
<g id="n-LLViewBorder" class="nd"><rect x="1763" y="1989" width="106" height="27"/><text x="1816" y="2007.2">LLViewBorder</text></g>
<g id="n-LLEditMenuHandler" class="nd"><rect x="1745" y="2130" width="140" height="27"/><text x="1815" y="2148.2">LLEditMenuHandler</text></g>
<g id="n-LLCtrlScrollInterface" class="nd"><rect x="1744" y="2464" width="143" height="27"/><text x="1815.5" y="2482.2">LLCtrlScrollInterface</text></g>
<g id="n-LLSD" class="nd red"><rect x="1393" y="2565" width="57" height="27"/><text x="1421.5" y="2583.2">LLSD</text></g>
<g id="n-LLScrollListItem" class="nd"><rect x="1756" y="2565" width="117" height="27"/><text x="1814.5" y="2583.2">LLScrollListItem</text></g>
<g id="n-LLCtrlSelectionInterface" class="nd"><rect x="1340" y="2616" width="164" height="26"/><text x="1422" y="2633.7">LLCtrlSelectionInterface</text></g>
<g id="n-LLCtrlListInterface" class="nd"><rect x="1749" y="2616" width="131" height="26"/><text x="1814.5" y="2633.7">LLCtrlListInterface</text></g>
<g id="n-LLFocusableElement" class="nd"><rect x="965" y="2194" width="148" height="27"/><text x="1039" y="2212.2">LLFocusableElement</text></g>
<g id="n-LLView" class="nd red"><rect x="1007" y="2351" width="65" height="28"/><text x="1039.5" y="2369.7">LLView</text></g>
<g id="n-LLLineEditor" class="nd"><rect x="2143" y="2036" width="97" height="27"/><text x="2191.5" y="2054.2">LLLineEditor</text></g>
<g id="n-LLScrollListCtrl" class="nd"><rect x="2135" y="2413" width="113" height="27"/><text x="2191.5" y="2431.2">LLScrollListCtrl</text></g>
</g>
</svg>
